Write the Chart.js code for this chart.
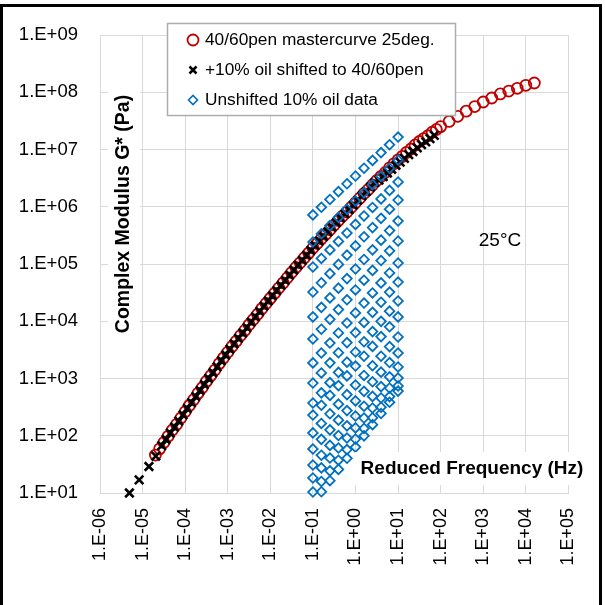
<!DOCTYPE html>
<html>
<head>
<meta charset="utf-8">
<script src="https://cdn.jsdelivr.net/npm/chart.js@4.4.1/dist/chart.umd.min.js"></script>
<style>
  html, body { margin: 0; padding: 0; background: #fff; }
  #wrap { width: 605px; height: 605px; }
</style>
</head>
<body>
<div id="wrap"><canvas id="chart" width="605" height="605"></canvas></div>
<script>
// axis ticks
const xTickValues = [1e-6, 1e-5, 1e-4, 1e-3, 1e-2, 1e-1, 1e0, 1e1, 1e2, 1e3, 1e4, 1e5];
const xTickLabels = ['1.E-06', '1.E-05', '1.E-04', '1.E-03', '1.E-02', '1.E-01',
                     '1.E+00', '1.E+01', '1.E+02', '1.E+03', '1.E+04', '1.E+05'];
const yTickValues = [1e1, 1e2, 1e3, 1e4, 1e5, 1e6, 1e7, 1e8, 1e9];
const yTickLabels = ['1.E+01', '1.E+02', '1.E+03', '1.E+04', '1.E+05', '1.E+06', '1.E+07', '1.E+08', '1.E+09'];

const seriesNames = ['40/60pen mastercurve 25deg.', '+10% oil shifted to 40/60pen', 'Unshifted 10% oil data'];
const xTitle = 'Reduced Frequency (Hz)';
const yTitle = 'Complex Modulus G* (Pa)';
const tempNote = '25°C';

// 40/60pen mastercurve (Hz, Pa)
const masterFreq = [2.0e-5, 2.51e-5, 3.16e-5, 3.98e-5, 5.01e-5, 6.31e-5, 7.94e-5,
  1.0e-4, 1.26e-4, 1.58e-4, 2.0e-4, 2.51e-4, 3.16e-4, 3.98e-4, 5.01e-4, 6.31e-4, 7.94e-4,
  1.0e-3, 1.26e-3, 1.58e-3, 2.0e-3, 2.51e-3, 3.16e-3, 3.98e-3, 5.01e-3, 6.31e-3, 7.94e-3,
  1.0e-2, 1.26e-2, 1.58e-2, 2.0e-2, 2.51e-2, 3.16e-2, 3.98e-2, 5.01e-2, 6.31e-2, 7.94e-2,
  0.1, 0.126, 0.158, 0.2, 0.251, 0.316, 0.398, 0.501, 0.631, 0.794,
  1, 1.26, 1.58, 2.0, 2.51, 3.16, 3.98, 5.01, 6.31, 7.94,
  10, 12.6, 15.8, 20, 25.1, 31.6, 39.8, 50.1, 63.1, 79.4,
  100, 158, 251, 398, 631, 1000, 1585, 2512, 3981, 6310, 10000, 15850];
const masterG = [46, 59, 76, 98, 126, 158, 204,
  263, 339, 427, 550, 692, 891, 1120, 1410, 1820, 2290,
  2880, 3630, 4470, 5620, 6920, 8710, 1.07e4, 1.32e4, 1.66e4, 2.04e4,
  2.51e4, 3.09e4, 3.80e4, 4.68e4, 5.75e4, 7.08e4, 8.71e4, 1.05e5, 1.29e5, 1.55e5,
  1.91e5, 2.29e5, 2.75e5, 3.31e5, 3.98e5, 4.79e5, 5.75e5, 6.92e5, 8.13e5, 9.77e5,
  1.17e6, 1.41e6, 1.70e6, 2.00e6, 2.40e6, 2.88e6, 3.39e6, 3.98e6, 4.79e6, 5.62e6,
  6.61e6, 7.59e6, 8.91e6, 1.02e7, 1.20e7, 1.38e7, 1.55e7, 1.74e7, 2.00e7, 2.24e7,
  2.51e7, 3.09e7, 3.80e7, 4.68e7, 5.62e7, 6.76e7, 7.94e7, 9.33e7, 1.05e8, 1.17e8, 1.32e8, 1.45e8];

// +10% oil, shifted to 40/60pen
const shiftedFreq = [4.9e-6, 8.3e-6, 1.41e-5, 2.04e-5,
  2.82e-5, 3.55e-5, 4.47e-5, 5.62e-5, 7.08e-5, 8.91e-5,
  1.12e-4, 1.41e-4, 1.78e-4, 2.24e-4, 2.82e-4, 3.55e-4, 4.47e-4, 5.62e-4, 7.08e-4, 8.91e-4,
  1.12e-3, 1.41e-3, 1.78e-3, 2.24e-3, 2.82e-3, 3.55e-3, 4.47e-3, 5.62e-3, 7.08e-3, 8.91e-3,
  1.12e-2, 1.41e-2, 1.78e-2, 2.24e-2, 2.82e-2, 3.55e-2, 4.47e-2, 5.62e-2, 7.08e-2, 8.91e-2,
  0.112, 0.141, 0.178, 0.224, 0.282, 0.355, 0.447, 0.562, 0.708, 0.891,
  1.12, 1.41, 1.78, 2.24, 2.82, 3.55, 4.47, 5.62, 7.08, 8.91,
  11.2, 14.1, 17.8, 22.4, 28.2, 35.5, 44.7, 56.2, 70.8];
const shiftedG = [10, 17, 29, 44,
  67, 86, 111, 141, 180, 232,
  299, 380, 484, 617, 785, 1000, 1260, 1600, 2040, 2570,
  3240, 4030, 5010, 6240, 7760, 9660, 1.19e4, 1.48e4, 1.84e4, 2.26e4,
  2.79e4, 3.43e4, 4.22e4, 5.19e4, 6.38e4, 7.85e4, 9.55e4, 1.16e5, 1.41e5, 1.72e5,
  2.09e5, 2.51e5, 3.02e5, 3.63e5, 4.37e5, 5.25e5, 6.31e5, 7.50e5, 8.91e5, 1.07e6,
  1.29e6, 1.55e6, 1.84e6, 2.19e6, 2.63e6, 2.92e6, 3.35e6, 3.89e6, 4.52e6, 5.31e6,
  6.03e6, 7.00e6, 8.13e6, 9.23e6, 1.07e7, 1.22e7, 1.36e7, 1.55e7, 1.76e7];

// unshifted 10% oil data: test frequencies and one row of G* per isotherm
const testFreq = [0.1, 0.158, 0.251, 0.398, 0.631, 1, 1.585, 2.512, 3.981, 6.31, 10];
const unshiftedG = [
  [7.2e5, 9.8e5, 1.34e6, 1.84e6, 2.52e6, 3.44e6, 4.71e6, 6.44e6, 8.83e6, 1.21e7, 1.65e7],
  [2.42e5, 3.37e5, 4.68e5, 6.52e5, 9.06e5, 1.26e6, 1.75e6, 2.43e6, 3.39e6, 4.71e6, 6.55e6],
  [8.87e4, 1.25e5, 1.76e5, 2.48e5, 3.48e5, 4.91e5, 6.90e5, 9.72e5, 1.37e6, 1.93e6, 2.71e6],
  [3.24e4, 4.70e4, 6.79e4, 9.84e4, 1.43e5, 2.07e5, 2.99e5, 4.33e5, 6.27e5, 9.06e5, 1.31e6],
  [1.19e4, 1.75e4, 2.56e4, 3.78e4, 5.56e4, 8.18e4, 1.20e5, 1.77e5, 2.61e5, 3.83e5, 5.64e5],
  [4.90e3, 7.26e3, 1.08e4, 1.60e4, 2.37e4, 3.52e4, 5.21e4, 7.73e4, 1.15e5, 1.70e5, 2.52e5],
  [1.87e3, 2.79e3, 4.17e3, 6.24e3, 9.33e3, 1.40e4, 2.08e4, 3.12e4, 4.67e4, 6.97e4, 1.04e5],
  [834, 1.25e3, 1.88e3, 2.82e3, 4.24e3, 6.35e3, 9.53e3, 1.43e4, 2.15e4, 3.23e4, 4.84e4],
  [373, 562, 847, 1.28e3, 1.93e3, 2.90e3, 4.38e3, 6.59e3, 9.95e3, 1.50e4, 2.26e4],
  [230, 341, 506, 752, 1.11e3, 1.65e3, 2.45e3, 3.63e3, 5.40e3, 8.00e3, 1.19e4],
  [112, 164, 242, 356, 523, 770, 1.13e3, 1.67e3, 2.45e3, 3.61e3, 5.31e3],
  [58.7, 86.5, 127, 187, 275, 406, 596, 877, 1.29e3, 1.90e3, 2.79e3],
  [30.8, 45.7, 67.8, 101, 149, 221, 328, 486, 723, 1.07e3, 1.59e3],
  [18.3, 27.4, 40.8, 61.1, 91.4, 137, 204, 305, 457, 682, 1.02e3],
  [10.4, 15.9, 24.4, 37.4, 57.3, 87.7, 134, 206, 315, 483, 740],
  [null, 10.5, 16.4, 25.8, 40.4, 63.4, 99.5, 156, 245, 385, 603]
];

const RED = '#C00000';
const BLUE = '#0070C0';
const FONT = "'Liberation Sans', Arial, sans-serif";

function pairs(xs, ys) {
	let out = [];
	xs.forEach((x, i) => {
		if (ys[i] != null) out.push({ x: x, y: ys[i] });
	});
	return out;
}

let diamondPts = [];
unshiftedG.forEach(row => { diamondPts = diamondPts.concat(pairs(testFreq, row)); });

// titles, legend, frame
const decor = {
	id: 'decor',
	beforeDraw(chart) {
		const ctx = chart.ctx;
		ctx.save();
		ctx.fillStyle = '#fff';
		ctx.fillRect(0, 0, chart.width, chart.height);
		ctx.restore();
	},
	afterDraw(chart) {
		const ctx = chart.ctx;
		ctx.save();

		// y axis title (inside the plot)
		ctx.fillStyle = '#fff';
		ctx.fillRect(108, 86, 32, 258);
		ctx.translate(124, 214);
		ctx.rotate(-Math.PI / 2);
		ctx.fillStyle = '#000';
		ctx.font = 'bold 19.5px ' + FONT;
		ctx.textAlign = 'center';
		ctx.textBaseline = 'middle';
		ctx.fillText(yTitle, 0, 0);
		ctx.setTransform(1, 0, 0, 1, 0, 0);

		// x axis title
		ctx.font = 'bold 19px ' + FONT;
		ctx.fillStyle = '#fff';
		ctx.fillRect(355, 452, 231, 33);
		ctx.fillStyle = '#000';
		ctx.fillText(xTitle, 472, 469);

		// temperature note
		ctx.font = '19px ' + FONT;
		ctx.fillText(tempNote, 500, 241);

		// legend
		ctx.fillStyle = '#fff';
		ctx.fillRect(167, 23, 288, 92);
		ctx.strokeStyle = '#ADADAD';
		ctx.lineWidth = 1.5;
		ctx.strokeRect(167.5, 23.5, 288, 92);

		ctx.strokeStyle = RED;
		ctx.lineWidth = 1.8;
		ctx.beginPath();
		ctx.arc(193, 40, 5.5, 0, Math.PI * 2);
		ctx.stroke();

		ctx.strokeStyle = '#000';
		ctx.lineWidth = 2.5;
		ctx.beginPath();
		ctx.moveTo(189.5, 66.5); ctx.lineTo(196.5, 73.5);
		ctx.moveTo(196.5, 66.5); ctx.lineTo(189.5, 73.5);
		ctx.stroke();

		ctx.strokeStyle = BLUE;
		ctx.lineWidth = 1.6;
		ctx.beginPath();
		ctx.moveTo(188.5, 100); ctx.lineTo(193, 95.5); ctx.lineTo(197.5, 100); ctx.lineTo(193, 104.5);
		ctx.closePath();
		ctx.stroke();

		ctx.fillStyle = '#000';
		ctx.font = '17.3px ' + FONT;
		ctx.textAlign = 'left';
		ctx.textBaseline = 'middle';
		ctx.fillText(seriesNames[0], 205, 40);
		ctx.fillText(seriesNames[1], 205, 70);
		ctx.fillText(seriesNames[2], 205, 100);

		// outer frame
		ctx.strokeStyle = '#000';
		ctx.lineWidth = 3;
		ctx.strokeRect(1.5, 5.5, 599, 605);

		ctx.restore();
	}
};

let ctx = document.getElementById('chart').getContext('2d');
let modulusChart = new Chart(ctx, {
	type : 'scatter',
	data : {
		datasets : [ {
			label : seriesNames[0],
			data : pairs(masterFreq, masterG),
			pointStyle : 'circle',
			pointRadius : 5.5,
			borderWidth : 1.8,
			borderColor : RED,
			backgroundColor : 'rgba(0,0,0,0)',
			clip : false,
			order : 3
		}, {
			label : seriesNames[1],
			data : pairs(shiftedFreq, shiftedG),
			pointStyle : 'crossRot',
			pointRadius : 6,
			borderWidth : 2.6,
			borderColor : '#000',
			clip : false,
			order : 2
		}, {
			label : seriesNames[2],
			data : diamondPts,
			pointStyle : 'rectRot',
			pointRadius : 4.8,
			borderWidth : 1.8,
			borderColor : BLUE,
			backgroundColor : 'rgba(0,0,0,0)',
			clip : false,
			order : 1
		} ]
	},
	options : {
		responsive : false,
		animation : false,
		devicePixelRatio : 1,
		layout : { padding : { top : 35, right : 28, left : 0, bottom : 0 } },
		plugins : {
			legend : { display : false },
			tooltip : { enabled : false }
		},
		scales : {
			x : {
				type : 'logarithmic',
				min : 1e-6,
				max : 1e5,
				afterBuildTicks : s => { s.ticks = xTickValues.map(v => ({ value : v })); },
				afterFit : s => { s.height = 112; },
				grid : { color : '#D9D9D9', drawTicks : false },
				border : { color : '#D9D9D9' },
				ticks : {
					autoSkip : false,
					minRotation : 90,
					maxRotation : 90,
					padding : 15,
					color : '#000',
					font : { family : FONT, size : 18 },
					callback : (v, i) => xTickLabels[i]
				}
			},
			y : {
				type : 'logarithmic',
				min : 1e1,
				max : 1e9,
				afterBuildTicks : s => { s.ticks = yTickValues.map(v => ({ value : v })); },
				afterFit : s => { s.width = 100; },
				grid : { color : '#D9D9D9', drawTicks : false },
				border : { color : '#D9D9D9' },
				ticks : {
					autoSkip : false,
					padding : 22,
					color : '#000',
					font : { family : FONT, size : 18.5 },
					callback : (v, i) => yTickLabels[i]
				}
			}
		}
	},
	plugins : [ decor ]
});
</script>
</body>
</html>
